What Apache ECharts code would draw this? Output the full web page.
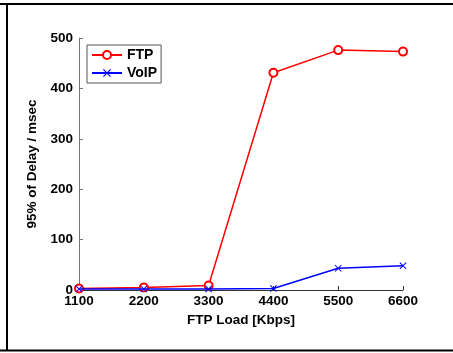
<!DOCTYPE html>
<html><head><meta charset="utf-8">
<script src="https://cdn.jsdelivr.net/npm/echarts@6/dist/echarts.min.js"></script>
<style>html,body{margin:0;padding:0;background:#fff}#c{width:453px;height:353px}</style>
</head><body><div id="c"></div>
<script>
const loads = [1100, 2200, 3300, 4400, 5500, 6600];
const ftpDelay = [3, 5, 9, 431, 476, 473];
const voipDelay = [2, 2, 2, 3, 43, 48];
const xTicks = [1100, 2200, 3300, 4400, 5500, 6600];
const yTicks = [0, 100, 200, 300, 400, 500];

const xShape = 'path://M0,1L1,0L5,4L9,0L10,1L6,5L10,9L9,10L5,6L1,10L0,9L4,5Z';
const font = '"Liberation Sans", Arial, sans-serif';
const fs = 13.5;
const chart = echarts.init(document.getElementById('c'), null, {renderer: 'canvas'});
chart.setOption({
  animation: false,
  backgroundColor: '#fff',
  grid: {left: 79, right: 50, top: 38, bottom: 63, containLabel: false},
  legend: {
    left: 87, top: 45, orient: 'vertical',
    backgroundColor: '#fff',
    borderColor: '#555', borderWidth: 1,
    padding: [3, 4, 3, 4], itemGap: 4, itemWidth: 30, itemHeight: 10,
    textStyle: {fontFamily: font, fontWeight: 'bold', fontSize: 14, color: '#000'},
    data: ['FTP', 'VoIP']
  },
  xAxis: {
    type: 'value', min: xTicks[0], max: xTicks[xTicks.length - 1], interval: 1100,
    name: 'FTP Load [Kbps]', nameLocation: 'middle', nameGap: 14,
    nameTextStyle: {fontFamily: font, fontWeight: 'bold', fontSize: fs, color: '#000'},
    axisLine: {show: true, lineStyle: {color: '#333', width: 1}},
    axisTick: {show: true, inside: true, length: 4, lineStyle: {color: '#333'}},
    axisLabel: {margin: 4, fontFamily: font, fontWeight: 'bold', fontSize: fs, color: '#000',
      formatter: v => String(v)},
    splitLine: {show: false}
  },
  yAxis: {
    type: 'value', min: yTicks[0], max: yTicks[yTicks.length - 1], interval: 100,
    name: '95% of Delay / msec', nameLocation: 'middle', nameGap: 35, nameRotate: 90,
    nameTextStyle: {fontFamily: font, fontWeight: 'bold', fontSize: fs, color: '#000'},
    axisLine: {show: true, lineStyle: {color: '#777', width: 1}},
    axisTick: {show: true, inside: true, length: 4, lineStyle: {color: '#777'}},
    axisLabel: {margin: 6, fontFamily: font, fontWeight: 'bold', fontSize: fs, color: '#000',
      formatter: v => String(v)},
    splitLine: {show: false}
  },
  series: [
    {name: 'FTP', type: 'line', data: loads.map((x, i) => [x, ftpDelay[i]]),
     symbol: 'emptyCircle', symbolSize: 8, showAllSymbol: true,
     lineStyle: {color: '#ff0000', width: 1.5},
     itemStyle: {color: '#ff0000', borderColor: '#ff0000', borderWidth: 1.5}, z: 2},
    {name: 'VoIP', type: 'line', data: loads.map((x, i) => [x, voipDelay[i]]),
     symbol: xShape, symbolSize: 7, showAllSymbol: true,
     lineStyle: {color: '#0000ff', width: 1.5},
     itemStyle: {color: '#0000ff'}, z: 3}
  ],
  graphic: [
    {type: 'line', shape: {x1: 0, y1: 4, x2: 453, y2: 4}, style: {stroke: '#000', lineWidth: 2}},
    {type: 'line', shape: {x1: 7, y1: 3, x2: 7, y2: 351}, style: {stroke: '#000', lineWidth: 2}},
    {type: 'line', shape: {x1: 0, y1: 350.5, x2: 453, y2: 350.5}, style: {stroke: '#000', lineWidth: 2}}
  ]
});
</script></body></html>
